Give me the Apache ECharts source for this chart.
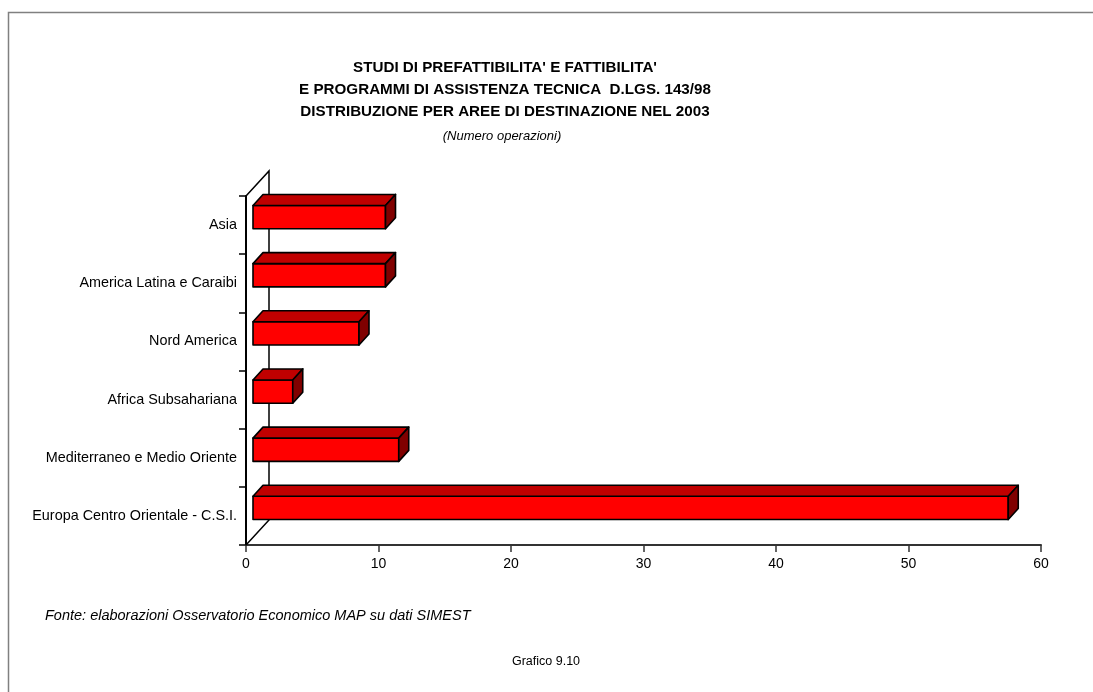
<!DOCTYPE html>
<html>
<head>
<meta charset="utf-8">
<script src="https://cdn.jsdelivr.net/npm/echarts@6/dist/echarts.min.js"></script>
<style>
html,body{margin:0;padding:0;background:#fff;}
#chart{width:1093px;height:692px;}
</style>
</head>
<body>
<div id="chart"></div>
<script>
// Data (bottom to top as drawn on the category axis)
const categories = [
  "Europa Centro Orientale - C.S.I.",
  "Mediterraneo e Medio Oriente",
  "Africa Subsahariana",
  "Nord America",
  "America Latina e Caraibi",
  "Asia"
];
const values = [57, 11, 3, 8, 10, 10];
const xTicks = { min: 0, max: 60, interval: 10 };

const titleLines = [
  "STUDI DI PREFATTIBILITA' E FATTIBILITA'",
  "E PROGRAMMI DI ASSISTENZA TECNICA  D.LGS. 143/98",
  "DISTRIBUZIONE PER AREE DI DESTINAZIONE NEL 2003"
];
const subtitle = "(Numero operazioni)";
const sourceText = "Fonte: elaborazioni Osservatorio Economico MAP su dati SIMEST";
const figureText = "Grafico 9.10";

const FONT = "Arial, 'Liberation Sans', Helvetica, sans-serif";

// 3D geometry (pixels)
const WALL_DX = 23, WALL_DY = 25;
const FRONT_DX = 7, FRONT_DY = 8;
const DEPTH_DX = 10, DEPTH_DY = 11;

const chart = echarts.init(document.getElementById('chart'), null, {renderer: 'canvas'});

function renderBar(params, api) {
  const cat = api.value(1);
  const val = api.value(0);
  const p0 = api.coord([0, cat]);
  const p1 = api.coord([val, cat]);
  const band = api.size([0, 1])[1];
  const h = band * 0.40;
  const L = p0[0] + FRONT_DX, R = p1[0] + FRONT_DX;
  const yc = p0[1] - FRONT_DY;
  const T = yc - h / 2, B = yc + h / 2;
  const stroke = {stroke: '#000', lineWidth: 1.6, lineJoin: 'round'};
  return {
    type: 'group',
    children: [
      {type: 'rect', shape: {x: L, y: T, width: R - L, height: B - T},
       style: Object.assign({fill: '#ff0000'}, stroke)},
      {type: 'polygon', shape: {points: [[L, T], [R, T], [R + DEPTH_DX, T - DEPTH_DY], [L + DEPTH_DX, T - DEPTH_DY]]},
       style: Object.assign({fill: '#c00000'}, stroke)},
      {type: 'polygon', shape: {points: [[R, T], [R + DEPTH_DX, T - DEPTH_DY], [R + DEPTH_DX, B - DEPTH_DY], [R, B]]},
       style: Object.assign({fill: '#800000'}, stroke)}
    ]
  };
}

function renderWall(params, api) {
  const cs = params.coordSys;
  const x = cs.x, y = cs.y, bottom = cs.y + cs.height;
  return {
    type: 'polyline',
    shape: {points: [[x, bottom], [x + WALL_DX, bottom - WALL_DY], [x + WALL_DX, y - WALL_DY], [x, y]]},
    style: {stroke: '#000', lineWidth: 1.5, fill: null}
  };
}

const option = {
  backgroundColor: '#fff',
  animation: false,
  grid: {left: 246, right: 52, top: 196, bottom: 147},
  xAxis: {
    type: 'value', min: xTicks.min, max: xTicks.max, interval: xTicks.interval,
    axisLine: {show: true, lineStyle: {color: '#333', width: 2}},
    axisTick: {show: true, length: 7, lineStyle: {color: '#333', width: 1.5}},
    splitLine: {show: false},
    axisLabel: {color: '#000', fontSize: 14, fontFamily: FONT, margin: 12}
  },
  yAxis: {
    type: 'category', data: categories,
    axisLine: {show: true, lineStyle: {color: '#000', width: 2}},
    axisTick: {show: true, length: 7, lineStyle: {color: '#000', width: 1.5}},
    axisLabel: {color: '#000', fontSize: 14.4, fontFamily: FONT, margin: 9},
    splitLine: {show: false}
  },
  series: [
    {type: 'custom', renderItem: renderWall, data: [[0, 0]], clip: false, z: 1, silent: true},
    {type: 'custom', renderItem: renderBar, clip: false, z: 2,
     encode: {x: 0, y: 1},
     data: values.map((v, i) => [v, i])}
  ],
  graphic: {
    elements: [
      {type: 'polyline', shape: {points: [[8.5, 692], [8.5, 12.5], [1093, 12.5]]},
       style: {stroke: '#808080', lineWidth: 1.5, fill: null}, silent: true},
      ...titleLines.map((t, i) => ({
        type: 'text', x: 505, y: 68 + i * 21.7,
        style: {text: t, fill: '#000', font: 'bold 15.2px ' + FONT, textAlign: 'center', textVerticalAlign: 'middle'}
      })),
      {type: 'text', x: 502, y: 136,
       style: {text: subtitle, fill: '#000', font: 'italic 13px ' + FONT, textAlign: 'center', textVerticalAlign: 'middle'}},
      {type: 'text', x: 45, y: 616,
       style: {text: sourceText, fill: '#000', font: 'italic 14.5px ' + FONT, textAlign: 'left', textVerticalAlign: 'middle'}},
      {type: 'text', x: 546, y: 662,
       style: {text: figureText, fill: '#000', font: '12.5px ' + FONT, textAlign: 'center', textVerticalAlign: 'middle'}}
    ]
  }
};
chart.setOption(option);
</script>
</body>
</html>
